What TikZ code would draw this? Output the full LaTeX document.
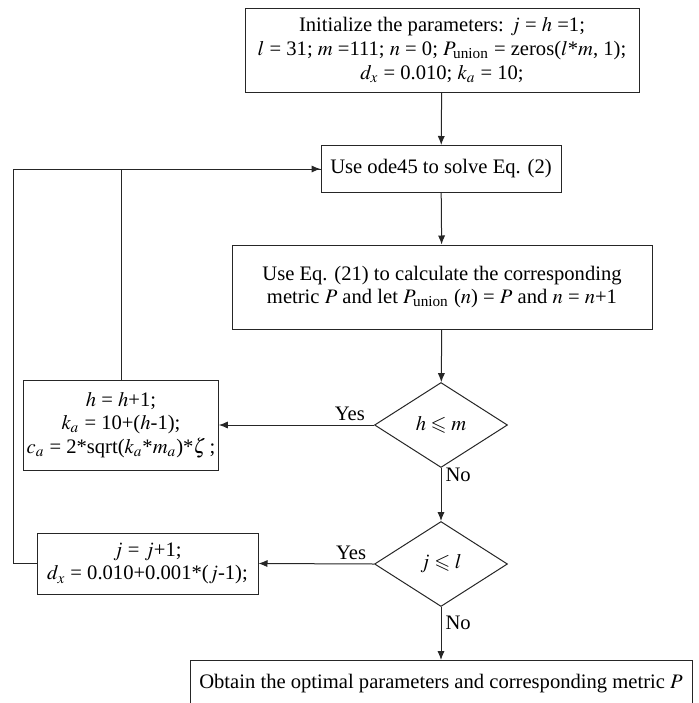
\documentclass[tikz,border=0pt]{standalone}
\usepackage{amsmath}
\usepackage{amssymb}
\usepackage{mathptmx}
\usepackage{fontspec}
\setmainfont{Liberation Serif}
\usetikzlibrary{shapes.geometric,arrows.meta}

\begin{document}
\begin{tikzpicture}[>={Latex[length=4.5pt,width=3.6pt]}, x=0.5pt, y=-0.5pt,
  line width=0.5pt, draw=black!85,
  font=\fontsize{10.3pt}{11.8pt}\selectfont,
  proc/.style={draw, align=center, inner sep=1.5pt},
  cond/.style={draw, diamond, inner sep=0pt, minimum width=66.5pt, minimum height=42.5pt},
  lbl/.style={inner sep=2pt}]
  \useasboundingbox (0,0) rectangle (698,703);
  % main column
  \node[proc, minimum width=197pt, minimum height=42pt] (init) at (442,50)
    {Initialize the parameters: $j$ = $h$ =1;\\
     $l$ = 31; $m$ =111; $n$ = 0; $P_{\text{union}}$ = zeros($l$*$m$, 1);\\
     $d_x$ = 0.010; $k_a$ = 10;};
  \node[proc, minimum width=120pt, minimum height=23.5pt] (ode) at (441,169)
    {Use ode45 to solve Eq. (2)};
  \node[proc, minimum width=210pt, minimum height=42pt] (metric) at (442,287)
    {Use Eq. (21) to calculate the corresponding\\
     metric $P$ and let $P_{\text{union}}$ ($n$) = $P$ and $n$ = $n$+1};
  \node[cond] (dech) at (441,425) {$h \leqslant m$};
  \node[cond] (decj) at (441,564) {$j \leqslant l$};
  \node[proc, minimum width=251pt, minimum height=23pt, anchor=north] (final) at (441,660)
    {Obtain the optimal parameters and corresponding metric $P$};
  % left column
  \node[proc, minimum width=95pt, minimum height=45pt] (hupd) at (121,425)
    {$h$ = $h$+1;\\
     $k_a$ = 10+($h$-1);\\
     $c_a$ = 2*sqrt($k_a$*$m_a$)*$\zeta$\,;};
  \node[proc, minimum width=110.5pt, minimum height=30.5pt] (jupd) at (147.5,563.5)
    {$j$ = $j$+1;\\
     $d_x$ = 0.010+0.001*($j$-1);};
  \coordinate (back) at (13,563.5);
  % connectors
  \draw[->] (init) -- (ode);
  \draw[->] (ode) -- (metric);
  \draw[->] (metric) -- (dech);
  \draw[->] (dech.west) -- node[lbl, pos=0.03, above left] {Yes} (hupd.east);
  \draw[->] (dech.south) -- node[lbl, pos=0.12, right] {No} (decj.north);
  \draw[->] (decj.west) -- node[lbl, pos=0.03, above left] {Yes} (jupd.east);
  \draw[->] (decj.south) -- node[lbl, pos=0.3, right] {No} (final.north);
  \draw (hupd.north) |- (ode.west);
  \draw[->] (jupd.west) -- (back) |- (ode.west);
\end{tikzpicture}
\end{document}
